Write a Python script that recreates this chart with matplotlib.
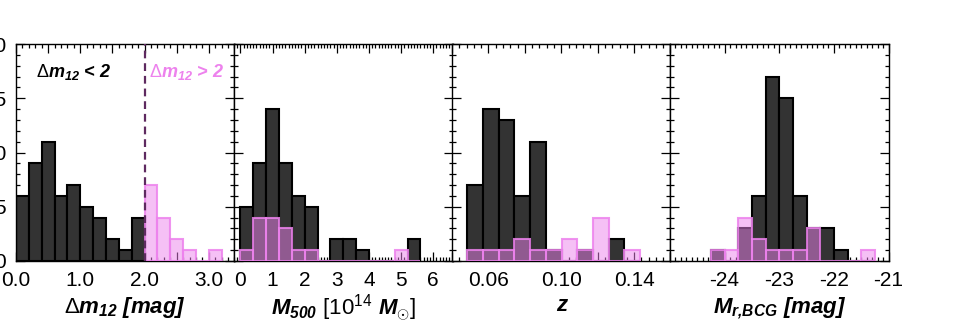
import numpy as np
import matplotlib
matplotlib.use('Agg')
import matplotlib.pyplot as plt
from matplotlib.ticker import MultipleLocator

plt.rcParams['font.family'] = 'Liberation Sans'
plt.rcParams['mathtext.fontset'] = 'custom'
plt.rcParams['mathtext.rm'] = 'Liberation Sans'
plt.rcParams['mathtext.it'] = 'Liberation Sans:italic:bold'
plt.rcParams['mathtext.bf'] = 'Liberation Sans:bold'
plt.rcParams['mathtext.bfit'] = 'Liberation Sans:italic:bold'

# delta m12 histogram (bins of 0.2 mag)
dm_black = [6, 9, 11, 6, 7, 5, 4, 2, 1, 4]
dm_pink = [7, 4, 2, 1, 0, 1]
dm_black_lo, dm_pink_lo, dm_w = 0.0, 2.0, 0.2

# M500 histogram (bins of 0.4e14 Msun)
m500_black = [5, 9, 14, 9, 6, 5, 0, 2, 2, 1, 0, 0, 0, 2]
m500_pink = [1, 4, 4, 3, 1, 1, 0, 0, 0, 0, 0, 0, 1, 0]
m500_lo, m500_w = 0.0, 0.4

# redshift histogram
z_black = [7, 14, 13, 6, 11, 1, 0, 1, 0, 2, 0]
z_pink = [1, 1, 1, 2, 1, 1, 2, 1, 4, 0, 1]
z_lo, z_w = 0.0483, 0.00864

# BCG magnitude histogram (bins of 0.25 mag)
mr_black = [1, 0, 3, 6, 17, 15, 6, 3, 3, 1, 0, 0]
mr_pink = [1, 1, 4, 2, 1, 1, 1, 3, 0, 0, 0, 1]
mr_lo, mr_w = -24.25, 0.25

BLACK_FC = '#333333'
PINK = (0.93, 0.51, 0.93)


def draw_hist(ax, blo, black, plo, pink, w):
    xb = blo + w * np.arange(len(black))
    xp = plo + w * np.arange(len(pink))
    ax.bar(xb, black, width=w, align='edge', facecolor=BLACK_FC,
           edgecolor='black', lw=1.5, zorder=2)
    ax.bar(xp, pink, width=w, align='edge', facecolor=PINK + (0.5,),
           edgecolor=PINK + (0.85,), lw=1.5, zorder=3)


def style(ax, xlim, xmajor, xminor, labels):
    ax.set_xlim(*xlim)
    ax.set_ylim(0, 20)
    ax.set_xticks(xmajor)
    ax.set_xticklabels(labels)
    ax.xaxis.set_minor_locator(MultipleLocator(xminor))
    ax.set_yticks([0, 5, 10, 15, 20])
    ax.yaxis.set_minor_locator(MultipleLocator(1))
    ax.tick_params(which='both', direction='in', top=True, right=True,
                   labelsize=15, width=0.9)
    ax.tick_params(which='major', length=6.5, pad=7)
    ax.tick_params(which='minor', length=3.2)
    for s in ax.spines.values():
        s.set_linewidth(1.0)


fig = plt.figure(figsize=(9.57, 3.30), dpi=100)
W, H = 957.0, 330.0
lefts = [16, 234, 452, 670]
pw, bottom, top = 218.5, 261, 44
axs = [fig.add_axes([l / W, (H - bottom) / H, pw / W, (bottom - top) / H])
       for l in lefts]

dm_label = r'$\Delta m_{\mathbfit{12}}$'

# panel 1
ax = axs[0]
draw_hist(ax, dm_black_lo, dm_black, dm_pink_lo, dm_pink, dm_w)
ax.axvline(2.0, color='#5e2a60', ls=(0, (3.5, 2.2)), lw=1.6, zorder=4)
style(ax, (0, 3.4), [0, 0.5, 1, 1.5, 2, 2.5, 3], 0.1,
      ['0.0', '', '1.0', '', '2.0', '', '3.0'])
ax.set_xlabel(dm_label + ' [mag]', fontsize=16,
              fontweight='bold', style='italic', labelpad=4)
ax.text(0.31, 17.4, dm_label + ' < 2', fontsize=13,
        fontweight='bold', style='italic', va='center', color='black')
ax.text(2.07, 17.4, dm_label + ' > 2', fontsize=13,
        fontweight='bold', style='italic', va='center', color=PINK)

# panel 2
ax = axs[1]
draw_hist(ax, m500_lo, m500_black, m500_lo, m500_pink, m500_w)
style(ax, (-0.2, 6.6), [0, 1, 2, 3, 4, 5, 6], 0.1,
      ['0', '1', '2', '3', '4', '5', '6'])
ax.set_xlabel(r'$M_{\mathbfit{500}}\ \mathrm{[10^{14}}\ M_{\odot}\mathrm{]}$',
              fontsize=16, labelpad=2)
ax.set_yticklabels([])

# panel 3
ax = axs[2]
draw_hist(ax, z_lo, z_black, z_lo, z_pink, z_w)
style(ax, (0.04, 0.16), [0.04, 0.06, 0.08, 0.10, 0.12, 0.14, 0.16], 0.004,
      ['', '0.06', '', '0.10', '', '0.14', ''])
ax.set_xlabel('z', fontsize=16, fontweight='bold', style='italic', labelpad=4)
ax.set_yticklabels([])

# panel 4
ax = axs[3]
draw_hist(ax, mr_lo, mr_black, mr_lo, mr_pink, mr_w)
style(ax, (-25, -21), [-25, -24, -23, -22, -21], 0.1,
      ['', '-24', '-23', '-22', '-21'])
ax.set_xlabel(r'$M_{\mathbfit{r{,}BCG}}$ [mag]', fontsize=16,
              fontweight='bold', style='italic', labelpad=4)
ax.set_yticklabels([])

fig.savefig('out.png', dpi=100)
